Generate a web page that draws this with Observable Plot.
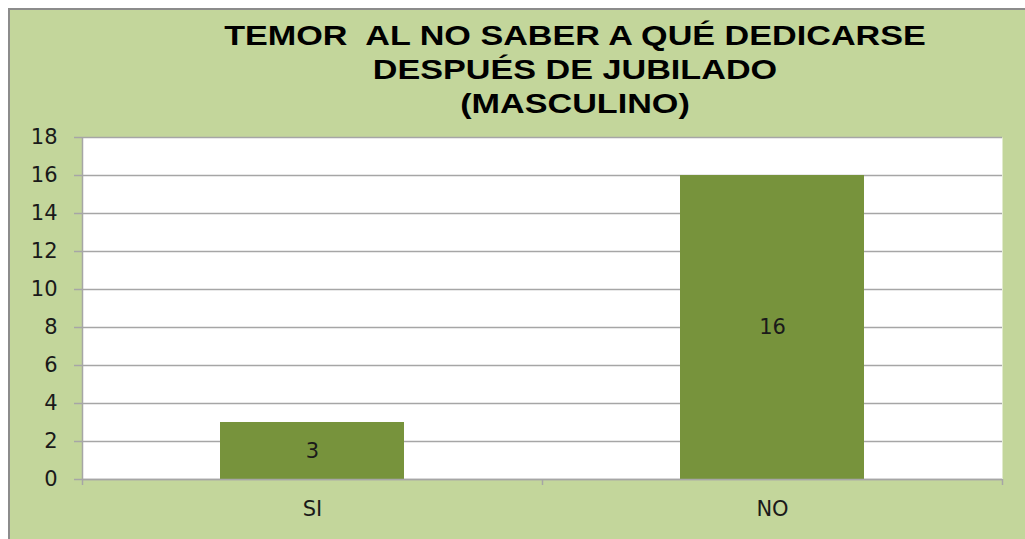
<!DOCTYPE html>
<html>
<head>
<meta charset="utf-8">
<script src="https://cdn.jsdelivr.net/npm/d3@7"></script>
<script src="https://cdn.jsdelivr.net/npm/@observablehq/plot@0.6"></script>
<style>
  html, body { margin: 0; padding: 0; background: #ffffff; width: 1025px; height: 539px; overflow: hidden; }
  #panel { position: absolute; left: 8px; top: 8px; width: 1040px; height: 560px; background: #c3d69b; border: 2px solid #8c8c8c; box-sizing: border-box; }
  #title { position: absolute; left: 125px; top: 19px; width: 900px; font-family: "Liberation Sans", Arial, sans-serif; font-weight: bold; font-size: 28px; line-height: 34px; color: #000; }
  #title div { text-align: center; transform: scaleX(1.22); transform-origin: 50% 50%; white-space: pre; }
  #chart { position: absolute; left: 0; top: 125px; }
</style>
</head>
<body>
<div id="panel"></div>
<div id="title"></div>
<div id="chart"></div>
<script>
const titleLines = ["TEMOR  AL NO SABER A QUÉ DEDICARSE", "DESPUÉS DE JUBILADO", "(MASCULINO)"];
const categories = ["SI", "NO"];
const values = [3, 16];
const yTicks = [0, 2, 4, 6, 8, 10, 12, 14, 16, 18];

const data = categories.map((c, i) => ({cat: c, value: values[i]}));

const t = document.getElementById("title");
titleLines.forEach(s => { const d = document.createElement("div"); d.textContent = s; t.appendChild(d); });

const W = 1025, H = 414, mL = 82, mR = 23, mT = 12, mB = 60;
const step = (W - mL - mR) / categories.length;
const grid = "#a6a6a6";

const chart = Plot.plot({
  width: W,
  height: H,
  marginLeft: mL,
  marginRight: mR,
  marginTop: mT,
  marginBottom: mB,
  style: {background: "transparent", fontFamily: "DejaVu Sans", fontSize: "21px", color: "#1a1a1a", overflow: "visible"},
  x: {domain: categories, paddingInner: 0.6, paddingOuter: 0.3, label: null},
  y: {domain: [0, 18], label: null},
  marks: [
    Plot.frame({fill: "white", stroke: null}),
    Plot.ruleY(yTicks, {stroke: grid, strokeWidth: 1.5}),
    Plot.barY(data, {x: "cat", y: "value", fill: "#77933c"}),
    Plot.ruleY([0], {stroke: grid, strokeWidth: 1.5}),
    Plot.ruleX([categories[0]], {dx: -step / 2, stroke: grid, strokeWidth: 1.5, insetBottom: -6}),
    Plot.ruleX(categories, {x: d => d, y1: 0, y2: 0, dx: step / 2, insetTop: 6, stroke: grid, strokeWidth: 1.5}),
    Plot.text(data, {x: "cat", y: d => d.value / 2, text: d => String(d.value), fill: "#1a1a1a", fontSize: 21}),
    Plot.axisY({ticks: yTicks, tickSize: 8, tickPadding: 17, stroke: grid, strokeWidth: 1.5, fill: "#1a1a1a", label: null}),
    Plot.axisX({tickSize: 0, tickPadding: 22, fill: "#1a1a1a", label: null})
  ]
});
document.getElementById("chart").appendChild(chart);
</script>
</body>
</html>
